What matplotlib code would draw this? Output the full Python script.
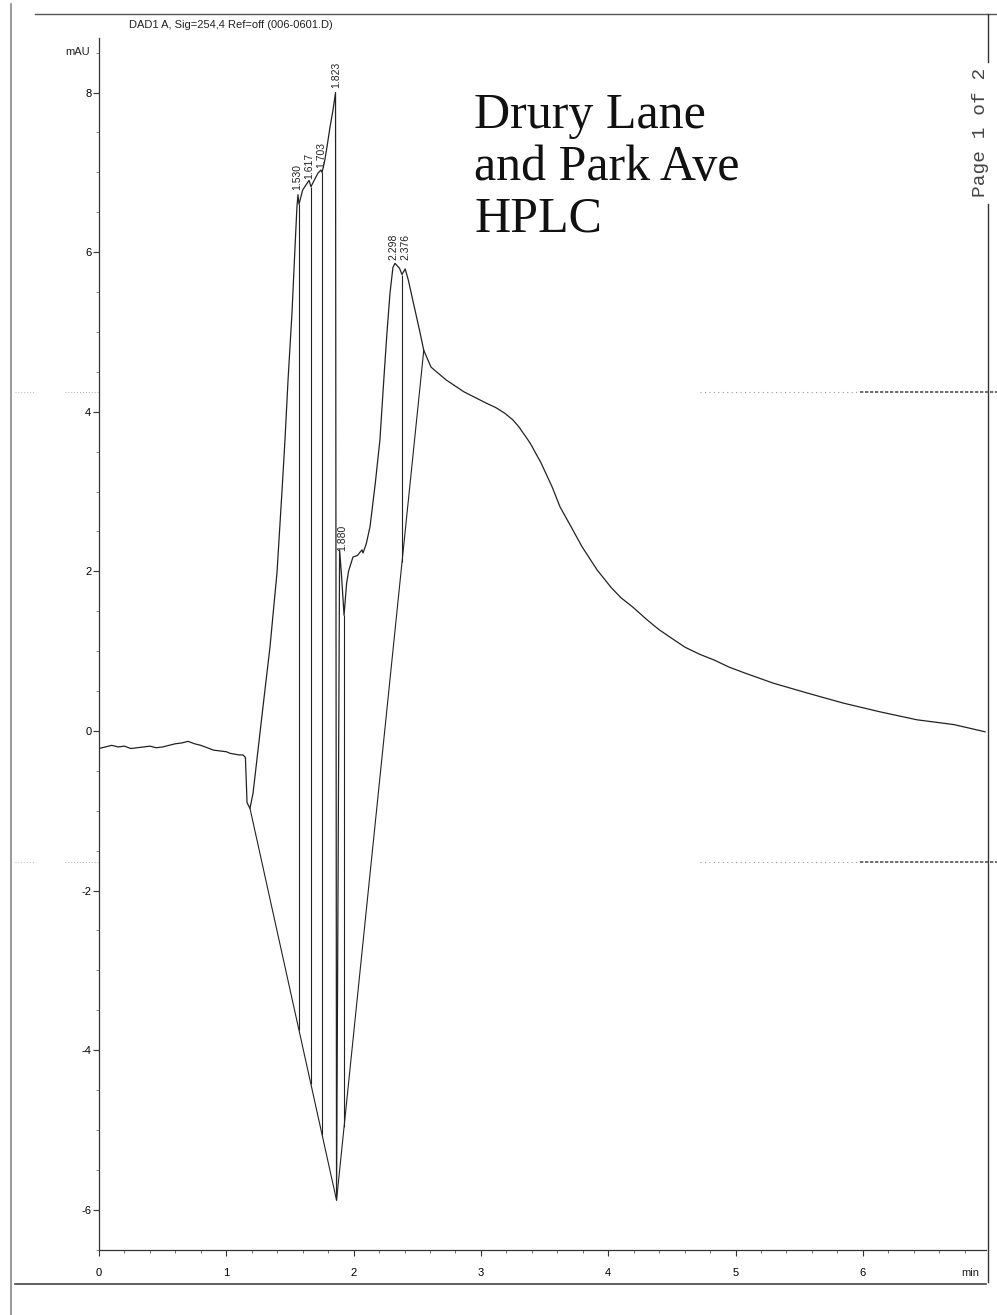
import numpy as np
import matplotlib
matplotlib.use("Agg")
import matplotlib.pyplot as plt
from matplotlib.lines import Line2D
from matplotlib.ticker import MultipleLocator

plt.rcParams["axes.unicode_minus"] = False

# signal trace (time in min, signal in mAU)
sig_t = [0.00, 0.05, 0.10, 0.15, 0.20, 0.25, 0.30, 0.35, 0.40, 0.45, 0.50, 0.55,
         0.60, 0.65, 0.70, 0.75, 0.80, 0.85, 0.90, 0.95, 1.00, 1.03, 1.10, 1.13,
         1.15, 1.163, 1.186, 1.21, 1.288, 1.343, 1.398, 1.438, 1.461, 1.485, 1.516,
         1.540, 1.555, 1.563, 1.571, 1.60, 1.650, 1.665, 1.69, 1.72, 1.744, 1.752,
         1.77, 1.791, 1.815, 1.838, 1.858, 1.866, 1.890, 1.905, 1.925, 1.945, 1.96,
         1.995, 2.03, 2.066, 2.074, 2.10, 2.129, 2.17, 2.207, 2.235, 2.262, 2.286,
         2.309, 2.325, 2.36, 2.38, 2.405, 2.43, 2.459, 2.49, 2.522, 2.551, 2.608,
         2.726, 2.867, 3.040, 3.12, 3.189, 3.25, 3.299, 3.386, 3.472, 3.559, 3.621,
         3.708, 3.794, 3.912, 4.022, 4.10, 4.195, 4.30, 4.399, 4.50, 4.603, 4.72,
         4.831, 4.95, 5.067, 5.295, 5.554, 5.845, 6.135, 6.426, 6.716, 6.960]
sig_v = [-0.22, -0.20, -0.18, -0.20, -0.19, -0.22, -0.21, -0.20, -0.19, -0.21, -0.20, -0.18,
         -0.16, -0.15, -0.13, -0.16, -0.18, -0.21, -0.24, -0.25, -0.26, -0.28, -0.30, -0.30,
         -0.33, -0.90, -0.97, -0.78, 0.30, 1.05, 1.98, 3.02, 3.65, 4.40, 5.24,
         6.07, 6.57, 6.72, 6.60, 6.78, 6.90, 6.82, 6.90, 6.99, 7.03, 7.00,
         7.12, 7.32, 7.57, 7.78, 8.00, -5.88, 2.27, 1.95, 1.45, 1.85, 2.00,
         2.18, 2.20, 2.27, 2.23, 2.35, 2.56, 3.10, 3.65, 4.35, 4.99, 5.49,
         5.81, 5.86, 5.80, 5.72, 5.79, 5.65, 5.44, 5.22, 4.99, 4.77, 4.56,
         4.40, 4.25, 4.11, 4.05, 3.98, 3.90, 3.81, 3.61, 3.36, 3.06, 2.81,
         2.56, 2.31, 2.02, 1.80, 1.67, 1.55, 1.40, 1.27, 1.16, 1.05, 0.96,
         0.89, 0.80, 0.73, 0.60, 0.48, 0.35, 0.24, 0.14, 0.08, -0.01]

# integration baseline (two segments meeting at the negative spike)
base_t = [1.186, 1.866, 2.551]
base_v = [-0.97, -5.88, 4.77]

# drop lines between integrated peaks
drop_t = [1.571, 1.665, 1.752, 1.925, 2.380]

# peak labels (retention times) and the apex where each is printed
peak_rt = ["1.530", "1.617", "1.703", "1.823", "1.880", "2.298", "2.376"]
peak_t = [1.555, 1.650, 1.748, 1.862, 1.909, 2.310, 2.404]
peak_v = [6.72, 6.86, 7.00, 8.00, 2.20, 5.84, 5.84]

W, H = 997, 1315
fig = plt.figure(figsize=(W / 100, H / 100), dpi=100)
ink = "#222222"

def fx(px):
    return px / W

def fy(py):
    return 1 - py / H

# axes placed so that 0 min sits at x=99px and 0 mAU at y=731px
ax = fig.add_axes([fx(99), fy(1250), 887.3 / W, 1212 / H])
ax.set_xlim(0, 6.97)
ax.set_ylim(-6.504, 8.684)

ax.plot(sig_t, sig_v, color=ink, lw=0.9)
ax.plot(base_t, base_v, color=ink, lw=0.8)
drop_top = np.interp(drop_t, sig_t, sig_v)
drop_bot = np.interp(drop_t, base_t, base_v)
ax.vlines(drop_t, drop_bot, drop_top, color=ink, lw=0.8)

for lab, t, v in zip(peak_rt, peak_t, peak_v):
    ax.text(t, v + 0.06, lab, rotation=90, ha="center", va="bottom",
            fontsize=7.5, family="Liberation Sans", color=ink)

for s in ["top", "right"]:
    ax.spines[s].set_visible(False)
for s in ["left", "bottom"]:
    ax.spines[s].set_color("#333333")
    ax.spines[s].set_linewidth(0.9)

ax.xaxis.set_major_locator(MultipleLocator(1))
ax.xaxis.set_minor_locator(MultipleLocator(0.2))
ax.yaxis.set_major_locator(MultipleLocator(2))
ax.yaxis.set_minor_locator(MultipleLocator(0.5))
ax.set_xticks(range(7))
ax.set_xticklabels([str(i) for i in range(7)])
ax.tick_params(axis="x", which="major", length=4, pad=9, labelsize=8, color="#333333")
ax.tick_params(axis="x", which="minor", length=2.5, color="#555555")
ax.tick_params(axis="y", which="major", length=4, pad=1.5, labelsize=8, color="#333333")
ax.tick_params(axis="y", which="minor", length=2, color="#777777")
for lbl in ax.get_xticklabels() + ax.get_yticklabels():
    lbl.set_family("Liberation Sans")

# page furniture
fig.text(fx(231), fy(25), "DAD1 A, Sig=254,4 Ref=off (006-0601.D)", ha="center",
         va="center", fontsize=8, family="Liberation Sans", color=ink)
fig.text(fx(78), fy(52), "mAU", ha="center", va="center", fontsize=8,
         family="Liberation Sans", color=ink)
fig.text(fx(970), fy(1273), "min", ha="center", va="center", fontsize=8,
         family="Liberation Sans", color=ink)
fig.text(fx(980), fy(132), "Page 1 of 2", rotation=90, ha="center", va="center",
         fontsize=14, family="Liberation Mono", color="#444444")

title_lines = ["Drury Lane", "and Park Ave", "HPLC"]
for line, base in zip(title_lines, [128, 180, 231]):
    fig.text(fx(474), fy(base), line, ha="left", va="baseline", fontsize=36,
             family="Liberation Serif", color="#111111")

def fline(x0, y0, x1, y1, **kw):
    fig.add_artist(Line2D([fx(x0), fx(x1)], [fy(y0), fy(y1)], **kw))

fline(35, 14, 997, 14, color="#555555", lw=1.0)
fline(988, 14, 988, 62, color="#333333", lw=1.0)
fline(988, 204, 988, 1282, color="#333333", lw=1.0)
fline(15, 1284, 986, 1284, color="#444444", lw=1.2)
fline(11, 4, 11, 1315, color="#888888", lw=1.2)
# scanner streaks
for y in [392, 862]:
    fline(700, y, 860, y, color="#999999", lw=0.8, ls=(0, (1, 3)))
    fline(860, y, 997, y, color="#555555", lw=1.2, ls=(0, (2, 1)))
    fline(65, y, 100, y, color="#aaaaaa", lw=0.7, ls=(0, (1, 2)))
    fline(15, y, 35, y, color="#bbbbbb", lw=0.7, ls=(0, (1, 2)))

fig.savefig("out.png", dpi=100)
